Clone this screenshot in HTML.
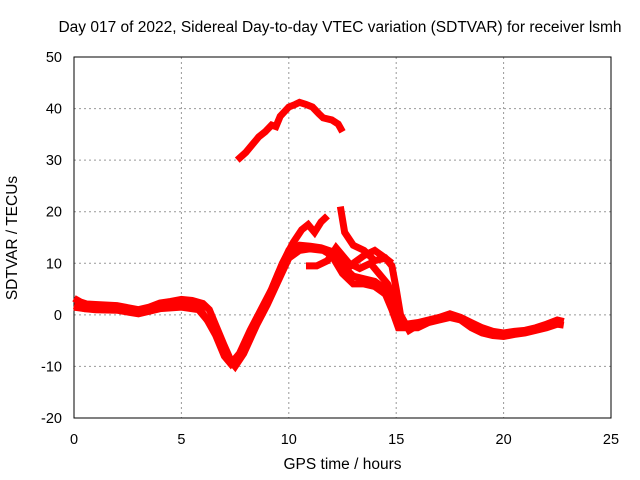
<!DOCTYPE html>
<html><head><meta charset="utf-8"><style>
body{margin:0;background:#fff}
svg{display:block;font-family:"Liberation Sans",sans-serif}
</style></head><body>
<svg id="chart" width="640" height="480"></svg>
<script>
const xTicks=[0,5,10,15,20,25];
const yTicks=[-20,-10,0,10,20,30,40,50];
const seriesTop=[[7.6,30],[8,31.5],[8.3,33],[8.6,34.5],[8.9,35.5],[9.2,36.8],[9.4,36.5],[9.6,38.5],[10,40.3],[10.3,40.8],[10.5,41.2],[10.8,40.8],[11.1,40.3],[11.4,39],[11.6,38.2],[12,37.8],[12.3,37],[12.5,35.5]];
const seriesMain=[[0,3.2],[0.3,2.5],[0.6,2.1],[1,2],[2,1.8],[2.5,1.4],[3,1],[3.5,1.5],[4,2.3],[4.5,2.6],[5,3],[5.5,2.8],[6,2.2],[6.3,1],[6.6,-2],[7,-6],[7.3,-8.8],[7.6,-8.5],[8,-5.5],[8.5,-1],[9,3],[9.5,8],[10,12.5],[10.5,13.5],[11,13.3],[11.5,13],[12,12.3],[12.5,9.5],[13,7.5],[13.5,7],[14,6.5],[14.5,5],[14.8,2],[15.1,-1.5],[15.5,-1.8],[16,-1.5],[16.5,-1],[17,-0.5],[17.5,0.2],[18,-0.5],[18.5,-1.5],[19,-2.5],[19.5,-3.2],[20,-3.5],[20.5,-3.2],[21,-3],[21.5,-2.5],[22,-1.8],[22.5,-1],[22.8,-1.3]];
const seriesLow=[[0,1.8],[0.5,1.2],[1,1],[2,0.9],[3,0.2],[4,1.2],[5,1.5],[5.8,1],[6.3,-1.5],[6.8,-5],[7.2,-8.5],[7.5,-10],[7.9,-7.5],[8.5,-2],[9,2],[9.5,6.5],[10,11],[10.5,12.5],[11,12.8],[11.6,12.5],[12,11.5],[12.5,8],[13,6],[13.5,6],[14,5.5],[14.5,4],[14.8,1],[15.1,-2.5],[15.5,-2.5],[16,-2.5],[16.5,-1.5],[17,-1],[17.5,-0.5],[18,-1],[18.5,-2.5],[19,-3.5],[19.5,-4],[20,-4.2],[20.5,-3.8],[21,-3.5],[21.5,-3],[22,-2.5],[22.5,-1.8],[22.8,-2]];
const seriesAlt=[[0,1.5],[0.5,1.2],[1,1.2],[2,1],[3,0.3],[4,1.5],[5,1.8],[5.8,1.5],[6.2,-1],[6.6,-4],[7,-8],[7.3,-9.5],[7.7,-7.5],[8.2,-3],[8.7,1],[9.2,5],[9.7,10],[10.2,14],[10.6,16.5],[10.9,17.5],[11.2,16],[11.5,18],[11.8,19.2]];
const seriesB3=[[12.4,21],[12.6,16],[13,13.5],[13.5,12.5],[14,10.5],[14.5,11],[14.8,9.5],[15,5],[15.2,0],[15.6,-3],[16,-2]];
const seriesB4=[[10.8,9.5],[11.3,9.5],[11.8,10.5],[12.2,13],[12.8,10],[13.3,9],[13.8,10],[14.2,8],[14.6,6],[14.9,3],[15.3,-1.5]];
const seriesB5=[[12.5,8],[13,10],[13.5,11.5],[14,12.5],[14.5,11],[14.8,10]];
const X=v=>74+v*537/25, Y=v=>418-(v+20)*361/70;
const s=document.getElementById('chart');const NS='http://www.w3.org/2000/svg';
function mk(t,a,txt){const e=document.createElementNS(NS,t);for(const k in a)e.setAttribute(k,a[k]);if(txt!=null)e.textContent=txt;s.appendChild(e);return e;}
xTicks.forEach(t=>{const g=mk('line',{x1:X(t),x2:X(t),y1:57,y2:418,stroke:'#999','stroke-dasharray':'2,3'});


const l=mk('text',{x:X(t),y:444,'text-anchor':'middle','font-size':14.5},t);

});
yTicks.forEach(t=>{const g=mk('line',{x1:74,x2:611,y1:Y(t),y2:Y(t),stroke:'#999','stroke-dasharray':'2,3'});


const l=mk('text',{x:62,y:Y(t)+5,'text-anchor':'end','font-size':14.5},t);

});
const fr=mk('rect',{x:74,y:57,width:537,height:361,fill:'none',stroke:'#000'});


[seriesTop,seriesMain,seriesLow,seriesAlt,seriesB3,seriesB4,seriesB5].forEach(sr=>{const p=mk('polyline',{points:sr.map(d=>X(d[0])+','+Y(d[1])).join(' '),fill:'none',stroke:'#f00','stroke-width':7,'stroke-linejoin':'miter'});

});
</script>
<div style="position:absolute;left:0;top:0;width:640px;height:480px;pointer-events:none;font-family:'Liberation Sans',sans-serif">
<div style="position:absolute;left:0;width:680px;top:19px;text-align:center;font-size:15.5px;white-space:nowrap">Day 017 of 2022, Sidereal Day-to-day VTEC variation (SDTVAR) for receiver lsmh</div>
<div style="position:absolute;left:74px;width:537px;top:456px;text-align:center;font-size:15.5px">GPS time / hours</div>
<div style="position:absolute;left:-72px;width:170px;top:229px;text-align:center;font-size:15.5px;transform:rotate(-90deg)">SDTVAR / TECUs</div>
</div>
</body></html>
